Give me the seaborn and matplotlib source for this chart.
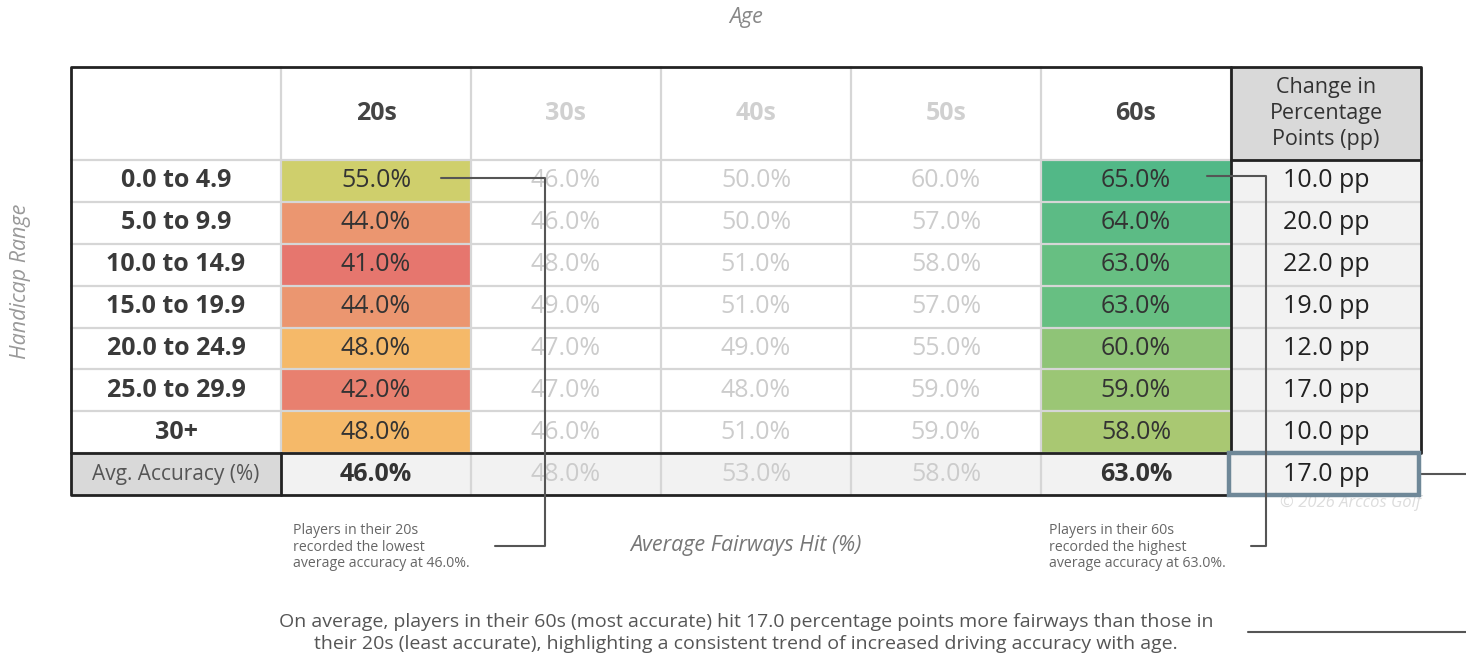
import numpy as np
import pandas as pd
import matplotlib
matplotlib.use("Agg")
import matplotlib.pyplot as plt
import seaborn as sns
from matplotlib.colors import LinearSegmentedColormap
from matplotlib.patches import Rectangle

# ---------------- data ----------------
ages = ["20s", "30s", "40s", "50s", "60s"]
handicaps = ["0.0 to 4.9", "5.0 to 9.9", "10.0 to 14.9", "15.0 to 19.9",
             "20.0 to 24.9", "25.0 to 29.9", "30+"]
fairways_20s = [55, 44, 41, 44, 48, 42, 48]
fairways_30s = [46, 46, 48, 49, 47, 47, 46]
fairways_40s = [50, 50, 51, 51, 49, 48, 51]
fairways_50s = [60, 57, 58, 57, 55, 59, 59]
fairways_60s = [65, 64, 63, 63, 60, 59, 58]
avg_accuracy = [46, 48, 53, 58, 63]
change_pp = [10, 20, 22, 19, 12, 17, 10]
avg_change_pp = 17.0
avg_label = "Avg. Accuracy (%)"
pp_header = "Change in\nPercentage\nPoints (pp)"
note_low = "Players in their 20s\nrecorded the lowest\naverage accuracy at 46.0%."
note_high = "Players in their 60s\nrecorded the highest\naverage accuracy at 63.0%."
summary = ("On average, players in their 60s (most accurate) hit 17.0 percentage points more fairways than those in\n"
           "their 20s (least accurate), highlighting a consistent trend of increased driving accuracy with age.")
highlight_cols = ["20s", "60s"]

# ---------------- style ----------------
sns.set_theme(style="white")
plt.rcParams["font.family"] = ["Open Sans", "DejaVu Sans"]

W, H = 1466, 655
fig = plt.figure(figsize=(W / 100, H / 100), dpi=100)
fig.patch.set_facecolor("white")

X0, LABW, COLW = 71, 210, 190
Y0, HDRH, ROWH = 67, 93, 41.875
nrows = len(handicaps) + 1
Xd = X0 + LABW
Yd = Y0 + HDRH
Xpp = Xd + COLW * len(ages)
Xend = Xpp + COLW
Yavg = Yd + ROWH * len(handicaps)
Yend = Yd + ROWH * nrows

DARK = "#333333"
LIGHT_TXT = "#cccccc"
GRID = "#d6d6d6"
EDGE = "#222222"
FS = 18


def fa(x, y, w, h):
    return fig.add_axes([x / W, 1 - (y + h) / H, w / W, h / H])


bg = fa(0, 0, W, H)
bg.set_xlim(0, W); bg.set_ylim(H, 0); bg.axis("off"); bg.set_zorder(0)

# ---------------- heatmap ----------------
df = pd.DataFrame({a: v for a, v in zip(ages, [fairways_20s, fairways_30s, fairways_40s,
                                                 fairways_50s, fairways_60s])}, index=handicaps)
df.loc[avg_label] = avg_accuracy
mask = np.ones(df.shape, dtype=bool)
for c in highlight_cols:
    mask[:len(handicaps), ages.index(c)] = False

nodes = [(41, "#e6766e"), (44, "#eb9670"), (48, "#f5b969"), (55, "#cfcf6c"),
         (58, "#a9c872"), (60, "#8fc477"), (63, "#67bf82"), (65, "#52b887")]
vmin, vmax = 41, 65
cmap = LinearSegmentedColormap.from_list(
    "fair", [((v - vmin) / (vmax - vmin), col) for v, col in nodes])

hm = fa(Xd, Yd, COLW * len(ages), ROWH * nrows)
hm.set_zorder(1)
hm.set_facecolor("white")
sns.heatmap(df, mask=mask, cmap=cmap, vmin=vmin, vmax=vmax, cbar=False, ax=hm,
            xticklabels=False, yticklabels=False)
hm.axhspan(len(handicaps), nrows, color="#f2f2f2", zorder=0)
hm.set_xlabel(""); hm.set_ylabel("")
for i in range(1, nrows):
    hm.axhline(i, color=GRID, lw=1.6, zorder=2)
for j in range(1, len(ages)):
    hm.axvline(j, color=GRID, lw=1.6, zorder=2)
for r in range(nrows):
    for c, a in enumerate(ages):
        hi = a in highlight_cols
        bold = (r == nrows - 1) and hi
        hm.text(c + 0.5, r + 0.5, f"{df.iloc[r, c]:.1f}%", ha="center", va="center",
                fontsize=FS, color=DARK if hi else LIGHT_TXT,
                fontweight="bold" if bold else "normal", zorder=3)

# ---------------- other table parts ----------------
bg.add_patch(Rectangle((X0, Yavg), LABW, ROWH, fc="#d9d9d9", ec="none"))
bg.add_patch(Rectangle((Xpp, Y0), COLW, HDRH, fc="#d9d9d9", ec="none"))
bg.add_patch(Rectangle((Xpp, Yd), COLW, ROWH * nrows, fc="#f2f2f2", ec="none"))

fg = fa(0, 0, W, H)
fg.set_xlim(0, W); fg.set_ylim(H, 0); fg.axis("off"); fg.set_zorder(3)
fg.patch.set_alpha(0)

# light grid
for i in range(nrows):
    y = Yd + ROWH * i
    fg.plot([X0, Xd], [y, y], color=GRID, lw=1.6)
    fg.plot([Xpp, Xend], [y, y], color=GRID, lw=1.6)
fg.plot([Xd, Xpp], [Yd, Yd], color=GRID, lw=1.6)
for j in range(len(ages) + 1):
    x = Xd + COLW * j
    fg.plot([x, x], [Y0, Yd], color=GRID, lw=1.6)
fg.plot([Xd, Xd], [Yd, Yavg], color=GRID, lw=1.6)

# dark frame
fg.plot([Xpp, X0, X0, Xend, Xend], [Yend, Yend, Y0, Y0, Yavg], color=EDGE, lw=2)
fg.plot([X0, Xpp], [Yavg, Yavg], color=EDGE, lw=2)
fg.plot([Xd, Xd], [Yavg, Yend], color=EDGE, lw=2)
fg.plot([Xpp, Xpp], [Y0, Yavg], color=EDGE, lw=2)
fg.plot([Xpp, Xend], [Yd, Yd], color=EDGE, lw=2)
fg.add_patch(Rectangle((Xpp - 2, Yavg), COLW, ROWH, fc="none", ec="#6f8898", lw=3.2,
                       zorder=4))

# headers
for j, a in enumerate(ages):
    fg.text(Xd + COLW * (j + 0.5), Y0 + HDRH / 2, a, ha="center", va="center",
            fontsize=FS, fontweight="bold",
            color="#444444" if a in highlight_cols else "#d0d0d0")
fg.text(Xpp + COLW / 2, Y0 + HDRH / 2, pp_header, ha="center", va="center",
        fontsize=15.5, color=DARK, linespacing=1.3)

# row labels
for i, h in enumerate(handicaps):
    fg.text(X0 + LABW / 2, Yd + ROWH * (i + 0.5), h, ha="center", va="center",
            fontsize=FS, fontweight="bold", color="#3a3a3a")
fg.text(X0 + LABW / 2, Yavg + ROWH / 2, avg_label, ha="center", va="center",
        fontsize=15, color="#555555")

# pp column values
for i, v in enumerate(change_pp + [avg_change_pp]):
    fg.text(Xpp + COLW / 2, Yd + ROWH * (i + 0.5), f"{v:.1f} pp", ha="center",
            va="center", fontsize=FS, color="#222222", zorder=5)

# axis titles
fg.text(746, 18, "Age", ha="center", va="center", fontsize=15.5, style="italic", color="#888888")
fg.text(746, 545, "Average Fairways Hit (%)", ha="center", va="center", fontsize=15.5,
        style="italic", color="#777777")
fg.text(21, 281, "Handicap Range", ha="center", va="center", rotation=90, fontsize=15.5,
        style="italic", color="#999999")
fg.text(Xend, 503, "© 2026 Arccos Golf", ha="right", va="center", fontsize=12,
        style="italic", color="#dddddd")

# notes
fg.text(293, 523, note_low, ha="left", va="top", fontsize=10.2, color="#666666", linespacing=1.15)
fg.text(1049, 523, note_high, ha="left", va="top", fontsize=10.2, color="#666666", linespacing=1.15)
fg.text(746, 633, summary, ha="center", va="center", fontsize=14, color="#555555",
        linespacing=1.35)

# connectors
LC = "#555555"
fg.plot([441, 545, 545, 495], [178, 178, 546, 546], color=LC, lw=1.5, zorder=6)
fg.plot([1207, 1266, 1266, 1251], [176, 176, 546, 546], color=LC, lw=1.5, zorder=6)
fg.plot([Xend, W], [474, 474], color=LC, lw=1.5)
fg.plot([1248, W], [632, 632], color=LC, lw=1.5)

fig.savefig("out.png", dpi=100, facecolor="white")
